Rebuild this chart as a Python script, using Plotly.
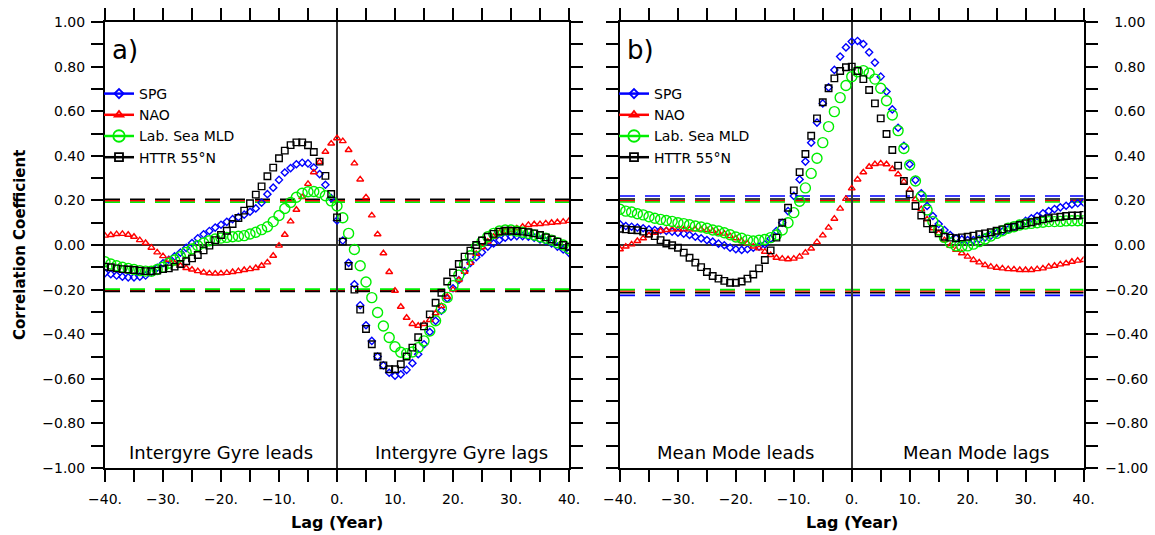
import plotly.graph_objects as go

# ---------------- data ----------------
lags = list(range(-40, 41))

series_names = ["SPG", "NAO", "Lab. Sea MLD", "HTTR 55°N"]

# Panel a) Intergyre Gyre index
a_spg = [-0.126, -0.131, -0.137, -0.142, -0.145, -0.145, -0.142, -0.137, -0.120, -0.102,
         -0.082, -0.066, -0.051, -0.034, -0.013, 0.009, 0.030, 0.048, 0.063, 0.078,
         0.091, 0.104, 0.116, 0.125, 0.136, 0.149, 0.164, 0.190, 0.228, 0.257,
         0.292, 0.325, 0.345, 0.362, 0.369, 0.366, 0.347, 0.318, 0.270, 0.210,
         0.110,
         0.020, -0.080, -0.176, -0.270, -0.360, -0.430, -0.500, -0.540, -0.573, -0.586,
         -0.580, -0.560, -0.530, -0.490, -0.445, -0.390, -0.340, -0.294, -0.240, -0.194,
         -0.157, -0.117, -0.080, -0.055, -0.033, -0.007, 0.007, 0.022, 0.033, 0.037,
         0.040, 0.040, 0.037, 0.033, 0.025, 0.018, 0.007, -0.007, -0.020, -0.035]
a_nao = [0.042, 0.045, 0.049, 0.050, 0.046, 0.037, 0.022, 0.009, -0.012, -0.033,
         -0.050, -0.066, -0.082, -0.093, -0.103, -0.110, -0.117, -0.123, -0.127, -0.128,
         -0.127, -0.125, -0.121, -0.117, -0.112, -0.108, -0.103, -0.093, -0.078, -0.048,
         -0.003, 0.046, 0.106, 0.158, 0.215, 0.274, 0.326, 0.372, 0.418, 0.455,
         0.479,
         0.466, 0.426, 0.366, 0.294, 0.214, 0.133, 0.048, -0.037, -0.121, -0.205,
         -0.277, -0.326, -0.354, -0.362, -0.354, -0.336, -0.306, -0.274, -0.232, -0.200,
         -0.157, -0.120, -0.080, -0.040, -0.010, 0.015, 0.037, 0.055, 0.063, 0.067,
         0.075, 0.082, 0.090, 0.093, 0.094, 0.097, 0.100, 0.102, 0.105, 0.108]
a_mld = [-0.075, -0.085, -0.093, -0.100, -0.105, -0.110, -0.115, -0.117, -0.118, -0.110,
         -0.100, -0.082, -0.067, -0.052, -0.033, -0.018, -0.003, 0.009, 0.019, 0.027,
         0.031, 0.034, 0.037, 0.039, 0.042, 0.049, 0.057, 0.069, 0.082, 0.105,
         0.132, 0.164, 0.191, 0.214, 0.232, 0.239, 0.240, 0.236, 0.221, 0.198,
         0.175,
         0.122, 0.052, -0.020, -0.093, -0.166, -0.236, -0.303, -0.363, -0.415, -0.456,
         -0.481, -0.487, -0.480, -0.460, -0.430, -0.386, -0.340, -0.284, -0.235, -0.182,
         -0.135, -0.087, -0.048, -0.010, 0.015, 0.037, 0.052, 0.063, 0.067, 0.067,
         0.063, 0.057, 0.052, 0.045, 0.037, 0.030, 0.022, 0.010, 0.000, -0.015]
a_httr = [-0.097, -0.100, -0.105, -0.108, -0.110, -0.112, -0.115, -0.117, -0.118, -0.115,
          -0.108, -0.105, -0.097, -0.085, -0.073, -0.060, -0.045, -0.024, -0.003, 0.022,
          0.045, 0.064, 0.094, 0.121, 0.154, 0.187, 0.226, 0.263, 0.308, 0.347,
          0.389, 0.423, 0.448, 0.460, 0.460, 0.447, 0.417, 0.374, 0.310, 0.229,
          0.124,
          0.015, -0.094, -0.200, -0.290, -0.377, -0.445, -0.500, -0.540, -0.557, -0.557,
          -0.535, -0.500, -0.460, -0.414, -0.365, -0.311, -0.259, -0.214, -0.164, -0.123,
          -0.085, -0.052, -0.025, 0.000, 0.020, 0.037, 0.050, 0.060, 0.064, 0.064,
          0.063, 0.060, 0.057, 0.052, 0.045, 0.034, 0.025, 0.015, 0.000, -0.008]

# Panel b) Mean Mode index
b_spg = [0.093, 0.085, 0.082, 0.078, 0.075, 0.070, 0.067, 0.066, 0.063, 0.060,
         0.055, 0.051, 0.045, 0.037, 0.030, 0.022, 0.015, 0.006, -0.001, -0.012,
         -0.019, -0.022, -0.019, -0.012, -0.007, 0.003, 0.028, 0.063, 0.100, 0.152,
         0.220, 0.294, 0.374, 0.459, 0.549, 0.635, 0.707, 0.785, 0.845, 0.886,
         0.912,
         0.915, 0.901, 0.864, 0.818, 0.755, 0.688, 0.608, 0.526, 0.445, 0.362,
         0.291, 0.232, 0.175, 0.130, 0.094, 0.067, 0.045, 0.030, 0.025, 0.022,
         0.022, 0.027, 0.034, 0.042, 0.052, 0.060, 0.070, 0.082, 0.094, 0.108,
         0.120, 0.130, 0.142, 0.152, 0.161, 0.169, 0.176, 0.182, 0.187, 0.191]
b_nao = [-0.019, -0.007, 0.003, 0.018, 0.030, 0.043, 0.055, 0.063, 0.067, 0.070,
         0.070, 0.070, 0.070, 0.070, 0.070, 0.067, 0.063, 0.055, 0.051, 0.040,
         0.030, 0.018, 0.007, -0.007, -0.015, -0.030, -0.045, -0.057, -0.061, -0.064,
         -0.061, -0.052, -0.034, -0.016, 0.013, 0.043, 0.078, 0.118, 0.163, 0.207,
         0.254,
         0.294, 0.326, 0.351, 0.363, 0.366, 0.362, 0.341, 0.317, 0.284, 0.247,
         0.205, 0.161, 0.115, 0.075, 0.052, 0.022, -0.004, -0.022, -0.037, -0.052,
         -0.067, -0.078, -0.090, -0.097, -0.102, -0.105, -0.108, -0.109, -0.112, -0.112,
         -0.112, -0.108, -0.105, -0.097, -0.093, -0.087, -0.082, -0.075, -0.070, -0.067]
b_mld = [0.160, 0.152, 0.148, 0.140, 0.135, 0.127, 0.120, 0.115, 0.110, 0.106,
         0.100, 0.096, 0.091, 0.085, 0.081, 0.075, 0.067, 0.063, 0.055, 0.046,
         0.036, 0.030, 0.022, 0.018, 0.021, 0.025, 0.033, 0.045, 0.067, 0.100,
         0.145, 0.196, 0.256, 0.321, 0.389, 0.459, 0.531, 0.598, 0.661, 0.715,
         0.755,
         0.777, 0.782, 0.770, 0.744, 0.703, 0.647, 0.583, 0.513, 0.433, 0.359,
         0.287, 0.217, 0.157, 0.105, 0.067, 0.034, 0.010, -0.004, -0.007, -0.004,
         0.004, 0.015, 0.027, 0.040, 0.052, 0.064, 0.075, 0.082, 0.090, 0.094,
         0.097, 0.100, 0.102, 0.105, 0.105, 0.106, 0.108, 0.109, 0.109, 0.109]
b_httr = [0.073, 0.070, 0.067, 0.066, 0.060, 0.051, 0.040, 0.022, 0.007, -0.001,
          -0.012, -0.034, -0.057, -0.079, -0.099, -0.121, -0.139, -0.151, -0.161, -0.169,
          -0.169, -0.164, -0.151, -0.132, -0.105, -0.067, -0.024, 0.033, 0.100, 0.167,
          0.245, 0.327, 0.408, 0.490, 0.568, 0.640, 0.703, 0.747, 0.780, 0.797,
          0.800,
          0.780, 0.744, 0.695, 0.635, 0.568, 0.498, 0.426, 0.356, 0.287, 0.227,
          0.175, 0.132, 0.097, 0.072, 0.052, 0.037, 0.033, 0.030, 0.034, 0.037,
          0.042, 0.048, 0.052, 0.057, 0.064, 0.070, 0.078, 0.082, 0.090, 0.097,
          0.102, 0.109, 0.115, 0.120, 0.124, 0.127, 0.130, 0.132, 0.132, 0.135]

# significance levels (upper, lower) per series
a_sig_upper = [0.200, 0.198, 0.192, 0.205]
a_sig_lower = [-0.203, -0.203, -0.198, -0.208]
b_sig_upper = [0.220, 0.198, 0.193, 0.206]
b_sig_lower = [-0.226, -0.206, -0.200, -0.214]

x_tickvals = [-40, -30, -20, -10, 0, 10, 20, 30, 40]
x_ticktext = ["\u221240.", "\u221230.", "\u221220.", "\u221210.", "0.", "10.", "20.", "30.", "40."]
y_tickvals = [-1.0, -0.8, -0.6, -0.4, -0.2, 0.0, 0.2, 0.4, 0.6, 0.8, 1.0]
y_ticktext = ["\u22121.00", "\u22120.80", "\u22120.60", "\u22120.40", "\u22120.20", "0.00",
              "0.20", "0.40", "0.60", "0.80", "1.00"]

panel_labels = ["a)", "b)"]
lead_lag_text = [("Intergyre Gyre leads", "Intergyre Gyre lags"),
                 ("Mean Mode leads", "Mean Mode lags")]

# ---------------- styling ----------------
colors = ["#0000ff", "#ff0000", "#00ee00", "#000000"]
symbols = ["diamond-open", "triangle-up-open", "circle-open", "square-open"]
msizes = [5.5, 6, 10, 6.5]
FONT = "DejaVu Sans"

fig = go.Figure()

panels = [
    dict(xa="x", ya="y", data=[a_spg, a_nao, a_mld, a_httr], up=a_sig_upper, lo=a_sig_lower, legend="legend"),
    dict(xa="x2", ya="y2", data=[b_spg, b_nao, b_mld, b_httr], up=b_sig_upper, lo=b_sig_lower, legend="legend2"),
]

for p in panels:
    # significance dashed lines
    for i in range(4):
        for lev in (p["up"][i], p["lo"][i]):
            fig.add_shape(type="line", xref=p["xa"] + " domain", yref=p["ya"],
                          x0=0, x1=1, y0=lev, y1=lev, layer="below",
                          line=dict(color=colors[i], width=1.6, dash="15px,10px"))
    for i in range(4):
        fig.add_trace(go.Scatter(
            x=lags, y=p["data"][i], mode="markers", xaxis=p["xa"], yaxis=p["ya"],
            marker=dict(symbol=symbols[i], size=msizes[i], color=colors[i],
                        line=dict(width=1.4, color=colors[i])),
            showlegend=False, hoverinfo="skip"))
    # legend entries
    for i in range(4):
        fig.add_trace(go.Scatter(
            x=[None], y=[None], mode="lines+markers", xaxis=p["xa"], yaxis=p["ya"],
            name=series_names[i], legend=p["legend"],
            line=dict(color=colors[i], width=2.5),
            marker=dict(symbol=symbols[i], size=msizes[i] + 1.5, color=colors[i],
                        line=dict(width=1.8, color=colors[i]))))

axis_common = dict(range=[-40, 40], showgrid=False, showline=True, linecolor="black",
                   linewidth=2, mirror="allticks", ticks="outside", ticklen=12, tickwidth=2,
                   tickcolor="black", zeroline=True, zerolinecolor="#333333", zerolinewidth=1.5,
                   tickvals=x_tickvals, ticktext=x_ticktext, automargin=False,
                   ticklabelstandoff=5,
                   tickfont=dict(family=FONT, size=14, color="black"),
                   minor=dict(dtick=5, tick0=0, ticks="outside", ticklen=12, tickwidth=2, tickcolor="black"))
yaxis_common = dict(range=[-1, 1], showgrid=False, showline=True, linecolor="black",
                    linewidth=2, mirror="allticks", ticks="outside", ticklen=12, tickwidth=2,
                    tickcolor="black", zeroline=True, zerolinecolor="#333333", zerolinewidth=1.5,
                    tickvals=y_tickvals, automargin=False,
                    tickfont=dict(family=FONT, size=14, color="black"),
                    minor=dict(dtick=0.1, tick0=0, ticks="outside", ticklen=12, tickwidth=2, tickcolor="black"))

y_top = 1 - 22 / 535
y_bot = 1 - 468 / 535

fig.update_layout(
    width=1155, height=535,
    margin=dict(l=0, r=0, t=0, b=0, autoexpand=False),
    paper_bgcolor="white", plot_bgcolor="white",
    font=dict(family=FONT, color="black"),
    xaxis=dict(axis_common, domain=[105 / 1155, 569 / 1155], anchor="y"),
    yaxis=dict(yaxis_common, domain=[y_bot, y_top], anchor="x", ticktext=y_ticktext, ticklabelstandoff=3),
    xaxis2=dict(axis_common, domain=[620 / 1155, 1083.5 / 1155], anchor="y2"),
    yaxis2=dict(yaxis_common, domain=[y_bot, y_top], anchor="x2", side="right",
                ticktext=[t if t.startswith("\u2212") else "\u2007" + t for t in y_ticktext],
                ticklabelstandoff=5),
    legend=dict(x=99 / 1155, y=1 - 78 / 535, xanchor="left", yanchor="top",
                bgcolor="rgba(0,0,0,0)", font=dict(family=FONT, size=14),
                itemwidth=30, tracegroupgap=0),
    legend2=dict(x=614 / 1155, y=1 - 78 / 535, xanchor="left", yanchor="top",
                 bgcolor="rgba(0,0,0,0)", font=dict(family=FONT, size=14),
                 itemwidth=30, tracegroupgap=0),
)

annotations = []
for k, (xa, ya) in enumerate([("x", "y"), ("x2", "y2")]):
    annotations.append(dict(text=panel_labels[k], xref=xa + " domain", yref=ya + " domain",
                            x=0.01, y=0.975, xanchor="left", yanchor="top", showarrow=False,
                            font=dict(family=FONT, size=26, color="black")))
    annotations.append(dict(text=lead_lag_text[k][0], xref=xa, yref=ya, x=-20, y=-0.93,
                            xanchor="center", yanchor="middle",
                            showarrow=False, font=dict(family=FONT, size=18, color="black")))
    annotations.append(dict(text=lead_lag_text[k][1], xref=xa, yref=ya, x=21.4, y=-0.93,
                            xanchor="center", yanchor="middle",
                            showarrow=False, font=dict(family=FONT, size=18, color="black")))
    annotations.append(dict(text="<b>Lag (Year)</b>", xref=xa + " domain", yref="paper",
                            x=0.5, y=1 - 522 / 535, xanchor="center", yanchor="middle",
                            showarrow=False, font=dict(family=FONT, size=16, color="black")))
annotations.append(dict(text="<b>Correlation Coefficient</b>", xref="paper", yref="paper",
                        x=20 / 1155, y=1 - 245 / 535, xanchor="center", yanchor="middle",
                        textangle=-90, showarrow=False,
                        font=dict(family=FONT, size=15, color="black")))
fig.update_layout(annotations=annotations)

fig.write_html("out.html")
